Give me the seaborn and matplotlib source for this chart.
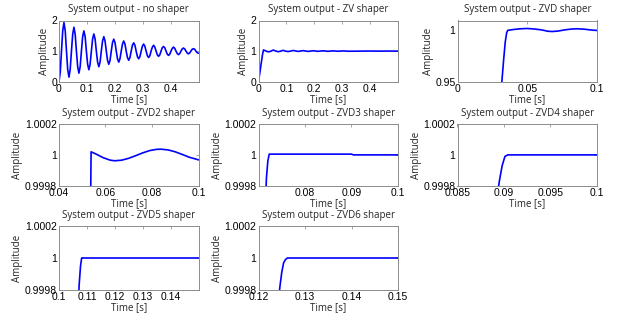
import numpy as np
import pandas as pd
import matplotlib
matplotlib.use("Agg")
import matplotlib.pyplot as plt
import seaborn as sns

# step responses

# no shaper: sampled every ~4.5 ms (8 samples per oscillation period)
t_none = [0, 0.0045, 0.0089, 0.0134, 0.0178, 0.0223, 0.0268, 0.0312, 0.0357, 0.0401,
          0.0446, 0.0491, 0.0535, 0.0580, 0.0624, 0.0669, 0.0714, 0.0758, 0.0803, 0.0847,
          0.0892, 0.0937, 0.0981, 0.1026, 0.1070, 0.1115, 0.1160, 0.1204, 0.1249, 0.1293,
          0.1338, 0.1383, 0.1427, 0.1472, 0.1516, 0.1561, 0.1606, 0.1650, 0.1695, 0.1739,
          0.1784, 0.1829, 0.1873, 0.1918, 0.1962, 0.2007, 0.2052, 0.2096, 0.2141, 0.2185,
          0.2230, 0.2275, 0.2319, 0.2364, 0.2408, 0.2453, 0.2498, 0.2542, 0.2587, 0.2631,
          0.2676, 0.2721, 0.2765, 0.2810, 0.2854, 0.2899, 0.2944, 0.2988, 0.3033, 0.3077,
          0.3122, 0.3167, 0.3211, 0.3256, 0.3300, 0.3345, 0.3390, 0.3434, 0.3479, 0.3523,
          0.3568, 0.3613, 0.3657, 0.3702, 0.3746, 0.3791, 0.3836, 0.3880, 0.3925, 0.3969,
          0.4014, 0.4059, 0.4103, 0.4148, 0.4192, 0.4237, 0.4282, 0.4326, 0.4371, 0.4415,
          0.4460, 0.4505, 0.4549, 0.4594, 0.4638, 0.4683, 0.4728, 0.4772, 0.4817, 0.4861,
          0.4906, 0.4951, 0.4995]
y_none = [0, 0.31, 1.0, 1.67, 1.93, 1.66, 1.0, 0.40, 0.15, 0.40,
          1.0, 1.55, 1.78, 1.55, 1.0, 0.49, 0.28, 0.49, 1.0, 1.47,
          1.66, 1.47, 1.0, 0.57, 0.39, 0.57, 1.0, 1.40, 1.56, 1.40,
          1.0, 0.64, 0.49, 0.64, 1.0, 1.33, 1.47, 1.33, 1.0, 0.70,
          0.57, 0.70, 1.0, 1.28, 1.39, 1.28, 1.0, 0.75, 0.64, 0.75,
          1.0, 1.23, 1.33, 1.23, 1.0, 0.79, 0.70, 0.79, 1.0, 1.19,
          1.27, 1.19, 1.0, 0.82, 0.75, 0.82, 1.0, 1.16, 1.23, 1.16,
          1.0, 0.85, 0.79, 0.85, 1.0, 1.13, 1.19, 1.13, 1.0, 0.88,
          0.83, 0.88, 1.0, 1.11, 1.15, 1.11, 1.0, 0.90, 0.86, 0.90,
          1.0, 1.09, 1.13, 1.09, 1.0, 0.92, 0.885, 0.92, 1.0, 1.07,
          1.10, 1.07, 1.0, 0.94, 0.91, 0.94, 1.0, 1.06, 1.08, 1.06,
          1.0, 0.95, 0.93]

t_zv = [0, 0.005, 0.010, 0.015, 0.018, 0.027, 0.036, 0.045, 0.053, 0.062,
        0.071, 0.080, 0.088, 0.097, 0.106, 0.115, 0.124, 0.142, 0.160, 0.178,
        0.196, 0.213, 0.231, 0.249, 0.267, 0.285, 0.303, 0.321, 0.356, 0.392,
        0.428, 0.463, 0.499]
y_zv = [0, 0.30, 0.62, 0.92, 1.04, 1.0, 0.975, 1.0, 1.035, 1.0,
        0.98, 1.0, 1.025, 1.0, 0.985, 1.0, 1.02, 0.99, 1.015, 0.99,
        1.012, 0.992, 1.01, 0.993, 1.008, 0.995, 1.006, 0.996, 0.998, 1.002,
        0.999, 1.001, 1.0]

t_zvd = [0.031, 0.0318, 0.0330, 0.0342, 0.0352, 0.0360, 0.040, 0.045, 0.050,
         0.055, 0.060, 0.065, 0.068, 0.072, 0.077, 0.082, 0.086, 0.091, 0.096, 0.1]
y_zvd = [0.93, 0.95, 0.97, 0.988, 0.997, 0.9995, 1.0003, 1.0010, 1.0013,
         1.0008, 1.0000, 0.9986, 0.9984, 0.9988, 1.0000, 1.0008, 1.0010, 1.0006, 0.9998, 0.9994]

t_zvd2 = [0.0536, 0.0538, 0.056, 0.059, 0.062, 0.064, 0.067, 0.070, 0.073,
          0.076, 0.079, 0.082, 0.084, 0.087, 0.090, 0.093, 0.096, 0.100]
y_zvd2 = [0.99970, 1.000020, 1.000005, 0.999982, 0.999966, 0.999962, 0.999966,
          0.999978, 0.999995, 1.000013, 1.000028, 1.000036, 1.000037, 1.000032,
          1.000020, 1.000003, 0.999985, 0.999968]

t_zvd3 = [0.0716, 0.0718, 0.0721, 0.0724, 0.080, 0.090, 0.0905, 0.100]
y_zvd3 = [0.99970, 0.99985, 0.99996, 1.000005, 1.000005, 1.000005, 1.0, 1.0]

t_zvd4 = [0.0892, 0.0895, 0.0898, 0.0901, 0.0904, 0.095, 0.100]
y_zvd4 = [0.99970, 0.99983, 0.99993, 0.99999, 1.0, 1.0, 1.0]

t_zvd5 = [0.1069, 0.1072, 0.1077, 0.1081, 0.1083, 0.125, 0.1499]
y_zvd5 = [0.99970, 0.99983, 0.99995, 1.0, 1.0, 1.0, 1.0]

t_zvd6 = [0.1242, 0.1246, 0.1250, 0.1254, 0.1258, 0.1262, 0.14, 0.15]
y_zvd6 = [0.99970, 0.99982, 0.99991, 0.99997, 0.99999, 1.0, 1.0, 1.0]

titles = ["System output - no shaper", "System output - ZV shaper",
          "System output - ZVD shaper", "System output - ZVD2 shaper",
          "System output - ZVD3 shaper", "System output - ZVD4 shaper",
          "System output - ZVD5 shaper", "System output - ZVD6 shaper"]

x_lims = [(0, 0.4999), (0, 0.4999), (0, 0.1), (0.04, 0.1), (0.0701, 0.1),
          (0.085, 0.1), (0.1, 0.1499), (0.12, 0.15)]
x_ticks = [[0, 0.1, 0.2, 0.3, 0.4], [0, 0.1, 0.2, 0.3, 0.4], [0, 0.05, 0.1],
           [0.04, 0.06, 0.08, 0.1], [0.08, 0.09, 0.1], [0.085, 0.09, 0.095, 0.1],
           [0.1, 0.11, 0.12, 0.13, 0.14], [0.12, 0.13, 0.14, 0.15]]
x_labels = [["0", "0.1", "0.2", "0.3", "0.4"], ["0", "0.1", "0.2", "0.3", "0.4"],
            ["0", "0.05", "0.1"], ["0.04", "0.06", "0.08", "0.1"],
            ["0.08", "0.09", "0.1"], ["0.085", "0.09", "0.095", "0.1"],
            ["0.1", "0.11", "0.12", "0.13", "0.14"], ["0.12", "0.13", "0.14", "0.15"]]

y_small = (0.9998, 1.0002)
y_lims = [(0, 2), (0, 2), (0.95, 1.009)] + [y_small] * 5
y_ticks = [[0, 1, 2], [0, 1, 2], [0.95, 1]] + [[0.9998, 1, 1.0002]] * 5
y_labels = [["0", "1", "2"], ["0", "1", "2"], ["0.95", "1"]] + [["0.9998", "1", "1.0002"]] * 5

series = [(t_none, y_none), (t_zv, y_zv), (t_zvd, y_zvd), (t_zvd2, y_zvd2),
          (t_zvd3, y_zvd3), (t_zvd4, y_zvd4), (t_zvd5, y_zvd5), (t_zvd6, y_zvd6)]

sns.set_style("white")
plt.rcParams['font.family'] = ['Liberation Sans', 'DejaVu Sans']

fig = plt.figure(figsize=(6.18, 3.2), dpi=100)

lefts = [59, 258.5, 457.5]
tops = [20.5, 124, 226]
bottoms = [81.7, 185.8, 290]
W, H = 618.0, 320.0

label_font = {'family': 'Open Sans', 'size': 7}

for i in range(8):
    r, c = divmod(i, 3)
    ax = fig.add_axes([lefts[c] / W, 1 - bottoms[r] / H, 139.5 / W, (bottoms[r] - tops[r]) / H])
    t, y = series[i]
    df = pd.DataFrame({'t': t, 'y': y})
    sns.lineplot(data=df, x='t', y='y', ax=ax, color='#0000ff', linewidth=1.2,
                 estimator=None, sort=False)
    ax.set_xlim(*x_lims[i])
    ax.set_ylim(*y_lims[i])
    ax.set_xticks(x_ticks[i])
    ax.set_xticklabels(x_labels[i])
    ax.set_yticks(y_ticks[i])
    ax.set_yticklabels(y_labels[i])
    ax.tick_params(direction='in', length=2.5, width=0.5, colors='#808080',
                   labelcolor='black', labelsize=7.5, pad=1.5,
                   top=True, right=True)
    for s in ax.spines.values():
        s.set_color('#8c8c8c')
        s.set_linewidth(0.7)
    ax.set_title(titles[i], fontdict=label_font, pad=6)
    ax.set_xlabel('Time [s]', fontdict=label_font, labelpad=0)
    ax.set_ylabel('Amplitude', fontdict=label_font, labelpad=1)

fig.savefig('out.png', dpi=100)
